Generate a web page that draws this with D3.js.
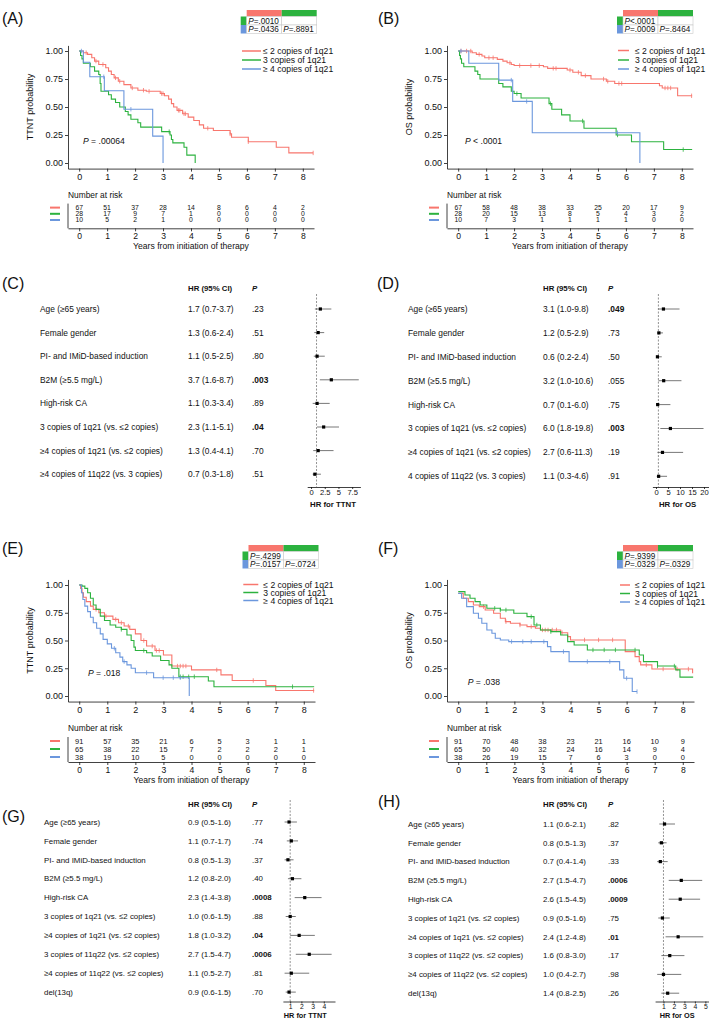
<!DOCTYPE html>
<html>
<head>
<meta charset="utf-8">
<script src="https://cdn.jsdelivr.net/npm/d3@7"></script>
<style>
  body { margin: 0; background: #fff; }
</style>
</head>
<body>
<div id="chart"></div>
<script>
// # Shared data.
const years = [0, 1, 2, 3, 4, 5, 6, 7, 8]
const groupNames = ['≤ 2 copies of 1q21', '3 copies of 1q21', '≥ 4 copies of 1q21']

// # Number at risk tables (rows: ≤2, 3, ≥4 copies).
const riskA = [[67, 51, 37, 28, 14, 8, 6, 4, 2], [28, 17, 9, 7, 1, 0, 0, 0, 0], [10, 5, 2, 1, 0, 0, 0, 0, 0]]
const riskB = [[67, 58, 48, 38, 33, 25, 20, 17, 9], [28, 20, 15, 13, 8, 5, 4, 3, 2], [10, 7, 3, 1, 1, 1, 1, 0, 0]]
const riskE = [[91, 57, 35, 21, 6, 5, 3, 1, 1], [65, 38, 22, 15, 7, 2, 2, 2, 1], [38, 19, 10, 5, 0, 0, 0, 0, 0]]
const riskF = [[91, 70, 48, 38, 23, 21, 16, 10, 9], [65, 50, 40, 32, 24, 16, 14, 9, 4], [38, 26, 19, 15, 7, 6, 3, 0, 0]]

// # Pairwise P tables: [[1 vs 2], [1 vs 3, 2 vs 3]].
const pairA = [['=.0010'], ['=.0436', '=.8891']]
const pairB = [['<.0001'], ['=.0009', '=.8464']]
const pairE = [['=.4299'], ['=.0157', '=.0724']]
const pairF = [['=.9399'], ['=.0329', '=.0329']]

// # Log-rank P.
const logrankA = ' = .00064'
const logrankB = ' < .0001'
const logrankE = ' = .018'
const logrankF = ' = .038'

// # Kaplan-Meier steps [years, survival] and censor times.
const kmA_red = [[0, 1], [0.15, 0.985], [0.3, 0.97], [0.45, 0.94], [0.55, 0.91], [0.7, 0.88], [0.95, 0.85], [1.05, 0.82], [1.15, 0.79], [1.25, 0.76], [1.4, 0.73], [1.6, 0.70], [1.85, 0.67], [2.1, 0.65], [2.4, 0.64], [2.9, 0.62], [3.05, 0.60], [3.2, 0.57], [3.3, 0.53], [3.38, 0.50], [3.5, 0.47], [3.7, 0.44], [3.9, 0.41], [4.1, 0.38], [4.3, 0.34], [4.45, 0.31], [4.8, 0.29], [5.4, 0.26], [5.45, 0.23], [6.05, 0.19], [7.05, 0.14], [7.5, 0.09], [8.37, 0.09]]
const kmA_green = [[0, 1], [0.05, 0.96], [0.1, 0.93], [0.15, 0.89], [0.4, 0.86], [0.55, 0.82], [0.7, 0.79], [0.75, 0.71], [0.78, 0.64], [1.05, 0.61], [1.15, 0.57], [1.3, 0.54], [1.45, 0.50], [1.65, 0.46], [1.75, 0.43], [1.85, 0.39], [2.1, 0.36], [2.2, 0.32], [2.95, 0.28], [3.25, 0.25], [3.3, 0.21], [3.35, 0.18], [3.75, 0.14], [3.85, 0.07], [4.15, 0]]
const kmA_blue = [[0, 1], [0.15, 0.9], [0.38, 0.77], [0.9, 0.645], [1.6, 0.48], [2.63, 0.24], [3.0, 0]]
const cA_red = [0.25, 0.6, 0.85, 1.3, 1.45, 1.9, 2.3, 2.5, 2.95, 3.0, 3.55, 3.6, 3.75, 3.8, 4.6, 5.4, 6.05, 8.37]
const cA_green = [3.22]
const cA_blue = [0.08, 0.88, 1.85]

const kmB_red = [[0, 1], [0.5, 0.985], [0.65, 0.97], [0.85, 0.955], [0.95, 0.94], [1.4, 0.925], [1.6, 0.91], [1.75, 0.895], [1.9, 0.88], [2.0, 0.87], [3.05, 0.86], [3.2, 0.845], [3.9, 0.83], [4.1, 0.81], [4.4, 0.78], [4.75, 0.75], [5.3, 0.73], [5.6, 0.71], [7.2, 0.69], [7.3, 0.67], [7.85, 0.60], [8.37, 0.60]]
const kmB_green = [[0, 1], [0.05, 0.96], [0.08, 0.93], [0.12, 0.89], [0.2, 0.86], [0.6, 0.82], [0.7, 0.79], [0.78, 0.75], [1.45, 0.71], [1.6, 0.68], [1.9, 0.64], [2.0, 0.62], [2.25, 0.58], [3.25, 0.53], [3.35, 0.48], [3.7, 0.43], [4.0, 0.375], [4.5, 0.31], [5.65, 0.25], [6.2, 0.19], [7.35, 0.12], [8.37, 0.12]]
const kmB_blue = [[0, 1], [0.38, 0.89], [1.45, 0.74], [1.95, 0.55], [2.65, 0.27], [6.5, 0]]
const cB_red = [0.1, 0.3, 0.45, 0.75, 1.1, 1.25, 1.85, 2.2, 2.6, 2.9, 3.4, 3.5, 4.0, 4.3, 4.55, 5.2, 5.35, 5.75, 5.85, 7.4, 7.5, 7.6, 8.35]
const cB_green = [2.1, 3.3, 4.45, 5.7, 8.05]
const cB_blue = [0.1, 1.9, 2.45, 5.7]

const kmE_red = [[0, 1], [0.05, 0.97], [0.1, 0.93], [0.15, 0.89], [0.25, 0.85], [0.4, 0.81], [0.5, 0.78], [0.7, 0.75], [0.9, 0.72], [1.2, 0.69], [1.4, 0.66], [1.6, 0.63], [1.8, 0.6], [2.0, 0.56], [2.2, 0.5], [2.4, 0.45], [2.7, 0.41], [3.0, 0.37], [3.3, 0.27], [4.0, 0.235], [5.05, 0.19], [5.45, 0.14], [6.65, 0.095], [7.0, 0.05], [8.37, 0.05]]
const kmE_green = [[0, 1], [0.1, 0.99], [0.2, 0.97], [0.3, 0.93], [0.4, 0.88], [0.5, 0.82], [0.6, 0.78], [0.75, 0.72], [0.9, 0.68], [1.1, 0.64], [1.3, 0.62], [1.5, 0.6], [1.7, 0.55], [1.85, 0.5], [1.95, 0.44], [2.0, 0.41], [2.4, 0.39], [2.6, 0.36], [2.9, 0.32], [3.2, 0.28], [3.3, 0.25], [3.55, 0.174], [4.6, 0.135], [4.8, 0.084], [8.37, 0.084]]
const kmE_blue = [[0, 1], [0.08, 0.93], [0.13, 0.87], [0.2, 0.81], [0.3, 0.76], [0.4, 0.71], [0.5, 0.66], [0.62, 0.61], [0.75, 0.56], [0.85, 0.51], [1.0, 0.47], [1.15, 0.43], [1.3, 0.39], [1.45, 0.35], [1.55, 0.31], [1.7, 0.28], [1.85, 0.25], [2.0, 0.21], [2.65, 0.165], [3.92, 0]]
const cE_red = [0.6, 0.95, 1.3, 1.5, 1.75, 2.3, 2.6, 2.75, 2.85, 3.5, 3.6, 3.7, 3.8, 4.9, 6.2, 8.35]
const cE_green = [1.5, 2.3, 3.6, 3.7, 3.9, 4.1, 7.6]
const cE_blue = [1.25, 1.6, 2.4, 2.99, 3.35, 3.6]

const kmF_red = [[0, 0.925], [0.18, 0.88], [0.36, 0.85], [0.54, 0.82], [0.75, 0.805], [0.96, 0.775], [1.26, 0.745], [1.5, 0.70], [1.68, 0.67], [1.86, 0.655], [2.2, 0.64], [2.45, 0.625], [2.75, 0.61], [2.93, 0.595], [3.65, 0.57], [3.9, 0.535], [4.0, 0.505], [5.95, 0.40], [6.3, 0.355], [6.45, 0.31], [6.5, 0.28], [6.9, 0.243], [8.35, 0.205]]
const kmF_green = [[0, 0.94], [0.24, 0.91], [0.42, 0.88], [0.6, 0.85], [0.78, 0.82], [1.02, 0.79], [1.5, 0.775], [1.98, 0.745], [2.45, 0.715], [2.7, 0.64], [2.93, 0.595], [3.3, 0.58], [3.65, 0.55], [3.9, 0.49], [4.13, 0.46], [4.6, 0.415], [6.45, 0.37], [6.6, 0.31], [7.1, 0.27], [7.75, 0.235], [7.9, 0.17], [8.37, 0.17]]
const kmF_blue = [[0, 0.925], [0.12, 0.88], [0.3, 0.805], [0.54, 0.745], [0.72, 0.70], [0.84, 0.655], [1.02, 0.595], [1.2, 0.565], [1.32, 0.52], [1.5, 0.505], [1.8, 0.49], [3.18, 0.445], [3.3, 0.40], [3.95, 0.31], [5.75, 0.235], [5.9, 0.16], [6.2, 0.04], [6.37, 0.04]]
const cF_red = [0.9, 1.7, 2.2, 2.6, 3.0, 3.1, 3.2, 3.35, 3.5, 3.7, 4.5, 5.0, 5.5, 6.7, 7.3, 7.8, 8.2]
const cF_green = [1.3, 1.5, 1.7, 2.6, 2.8, 3.3, 4.8, 5.2, 5.6, 6.3, 7.1, 7.7]
const cF_blue = [1.9, 2.3, 2.6, 3.05, 3.75, 4.6, 5.4, 6.0, 6.37]

// # Cox models.
const coxLabelsCD = ['Age (≥65 years)', 'Female gender', 'PI- and IMiD-based induction', 'B2M (≥5.5 mg/L)', 'High-risk CA', '3 copies of 1q21 (vs. ≤2 copies)', '≥4 copies of 1q21 (vs. ≤2 copies)']
const coxLabelsC = coxLabelsCD.concat(['≥4 copies of 11q22 (vs. 3 copies)'])
const coxLabelsD = coxLabelsCD.concat(['4 copies of 11q22 (vs. 3 copies)'])
const hrC = [1.7, 1.3, 1.1, 3.7, 1.1, 2.3, 1.3, 0.7]
const loC = [0.7, 0.6, 0.5, 1.6, 0.3, 1.1, 0.4, 0.3]
const hiC = [3.7, 2.4, 2.5, 8.7, 3.4, 5.1, 4.1, 1.8]
const pC = ['.23', '.51', '.80', '.003', '.89', '.04', '.70', '.51']
const hrD = [3.1, 1.2, 0.6, 3.2, 0.7, 6.0, 2.7, 1.1]
const loD = [1.0, 0.5, 0.2, 1.0, 0.1, 1.8, 0.6, 0.3]
const hiD = [9.8, 2.9, 2.4, 10.6, 6.0, 19.8, 11.3, 4.6]
const pD = ['.049', '.73', '.50', '.055', '.75', '.003', '.19', '.91']

const coxLabelsGH = ['Age (≥65 years)', 'Female gender', 'PI- and IMiD-based induction', 'B2M (≥5.5 mg/L)', 'High-risk CA', '3 copies of 1q21 (vs. ≤2 copies)', '≥4 copies of 1q21 (vs. ≤2 copies)', '3 copies of 11q22 (vs. ≤2 copies)', '≥4 copies of 11q22 (vs. ≤2 copies)', 'del(13q)']
const hrG = [0.9, 1.1, 0.8, 1.2, 2.3, 1.0, 1.8, 2.7, 1.1, 0.9]
const loG = [0.5, 0.7, 0.5, 0.8, 1.4, 0.6, 1.0, 1.5, 0.5, 0.6]
const hiG = [1.6, 1.7, 1.3, 2.0, 3.8, 1.5, 3.2, 4.7, 2.7, 1.5]
const pG = ['.77', '.74', '.37', '.40', '.0008', '.88', '.04', '.0006', '.81', '.70']
const hrH = [1.1, 0.8, 0.7, 2.7, 2.6, 0.9, 2.4, 1.6, 1.0, 1.4]
const loH = [0.6, 0.5, 0.4, 1.5, 1.5, 0.5, 1.2, 0.8, 0.4, 0.8]
const hiH = [2.1, 1.3, 1.4, 4.7, 4.5, 1.6, 4.8, 3.0, 2.7, 2.5]
const pH = ['.82', '.37', '.33', '.0006', '.0009', '.75', '.01', '.17', '.98', '.26']

const FONT = '"Liberation Sans", Arial, Helvetica, sans-serif'
const COLORS = ['#F8766D', '#2CB23F', '#6B97DD']
const INK = '#111'

// # Mount svg.
const svg = d3.select('#chart').append('svg')
    .attr('width', 709)
    .attr('height', 1020)
    .attr('font-family', FONT)
svg.append('rect').attr('width', 709).attr('height', 1020).attr('fill', '#fff')

function panelLabel(txt, x, y) {
    svg.append('text').attr('x', x).attr('y', y).attr('font-size', 16).attr('fill', INK).text(txt)
}

function stepAt(curve, t) {
    let s = curve[0][1]
    curve.forEach(d => { if (d[0] <= t) s = d[1] })
    return s
}

function styleAxis(sel, size) {
    sel.attr('font-family', FONT).attr('font-size', size)
    sel.selectAll('text').attr('fill', INK)
    sel.selectAll('line, path').attr('stroke', INK).attr('stroke-width', 0.8)
}

// # P table over each KM panel.
function pTable(x0, y0, vals) {
    const cw = 35, sq = 6, bh = 6.5, rh = 8.5
    const g = svg.append('g')
    g.append('rect').attr('x', x0 + sq).attr('y', y0).attr('width', cw).attr('height', bh).attr('fill', COLORS[0])
    g.append('rect').attr('x', x0 + sq + cw).attr('y', y0).attr('width', cw).attr('height', bh).attr('fill', COLORS[1])
    vals.forEach((row, r) => {
        const y = y0 + bh + r * rh
        g.append('rect').attr('x', x0).attr('y', y).attr('width', sq).attr('height', rh).attr('fill', COLORS[r + 1])
        for (let c = 0; c < 2; c++) {
            g.append('rect').attr('x', x0 + sq + c * cw).attr('y', y).attr('width', cw).attr('height', rh)
                .attr('fill', '#fff').attr('stroke', '#c8c8c8').attr('stroke-width', 0.6)
            if (row[c]) {
                const t = g.append('text').attr('x', x0 + sq + c * cw + 1.5).attr('y', y + rh / 2).attr('dy', '0.36em')
                    .attr('font-size', 8.2).attr('fill', INK)
                t.append('tspan').attr('font-style', 'italic').text('P')
                t.append('tspan').text(row[c])
            }
        }
    })
}

// # Kaplan-Meier panel with risk table.
function kmPanel(p) {
    const g = svg.append('g')
    const x = d3.scaleLinear().domain([-0.4, 8.4]).range([p.axisX, p.axisEnd])
    const y = d3.scaleLinear().domain([-0.05, 1.05]).range([p.yBot, p.yTop])
    const line = d3.line().x(d => x(d[0])).y(d => y(d[1])).curve(d3.curveStepAfter)

    p.curves.forEach((c, i) => {
        g.append('path').datum(c).attr('d', line)
            .attr('fill', 'none').attr('stroke', COLORS[i]).attr('stroke-width', 1.1)
        g.selectAll(null).data(p.cens[i]).enter().append('line')
            .attr('x1', t => x(t)).attr('x2', t => x(t))
            .attr('y1', t => y(stepAt(c, t)) - 2.2).attr('y2', t => y(stepAt(c, t)) + 2.2)
            .attr('stroke', COLORS[i]).attr('stroke-width', 0.8)
    })

    const ya = g.append('g').attr('transform', `translate(${p.axisX},0)`)
        .call(d3.axisLeft(y).tickValues([0, 0.25, 0.5, 0.75, 1]).tickFormat(d3.format('.2f')).tickSize(3).tickSizeOuter(0).tickPadding(2))
    styleAxis(ya, 9)
    const xa = g.append('g').attr('transform', `translate(0,${p.yBot})`)
        .call(d3.axisBottom(x).tickValues(years).tickFormat(d => d).tickSize(3).tickSizeOuter(0).tickPadding(2))
    styleAxis(xa, 9)

    g.append('text').attr('transform', `translate(${p.axisX - 35},${y(0.5)}) rotate(-90)`)
        .attr('text-anchor', 'middle').attr('font-size', 9).attr('fill', INK).text(p.ylab)

    const pt = g.append('text').attr('x', p.px).attr('y', p.py).attr('dy', '0.35em').attr('font-size', 8.6).attr('fill', INK)
    pt.append('tspan').attr('font-style', 'italic').text('P')
    pt.append('tspan').text(p.logrank)

    // # Legend.
    groupNames.forEach((n, i) => {
        g.append('line').attr('x1', p.legX).attr('x2', p.legX + p.legLen)
            .attr('y1', p.legY[i]).attr('y2', p.legY[i]).attr('stroke', COLORS[i]).attr('stroke-width', 1.5)
        g.append('text').attr('x', p.legTx).attr('y', p.legY[i]).attr('dy', '0.35em')
            .attr('font-size', 8.6).attr('fill', INK).text(n)
    })

    // # Risk table.
    g.append('text').attr('x', p.axisX).attr('y', p.nar).attr('dy', '0.35em')
        .attr('font-size', 8.4).attr('fill', INK).text('Number at risk')
    p.risk.forEach((row, i) => {
        g.append('line').attr('x1', p.axisX - 18).attr('x2', p.axisX - 8)
            .attr('y1', p.riskRows[i]).attr('y2', p.riskRows[i]).attr('stroke', COLORS[i]).attr('stroke-width', 2)
        g.selectAll(null).data(row).enter().append('text')
            .attr('x', (d, j) => x(years[j])).attr('y', p.riskRows[i]).attr('dy', '0.36em')
            .attr('text-anchor', 'middle').attr('font-size', p.riskFs).attr('fill', INK).text(d => d)
    })
    g.append('line').attr('x1', p.axisX).attr('x2', p.axisX)
        .attr('y1', p.riskRows[0] - 4).attr('y2', p.riskLine).attr('stroke', INK).attr('stroke-width', 0.8)
    const ra = g.append('g').attr('transform', `translate(0,${p.riskLine})`)
        .call(d3.axisBottom(x).tickValues(years).tickFormat(d => d).tickSize(3).tickSizeOuter(0).tickPadding(2))
    styleAxis(ra, 8.6)
    g.append('text').attr('x', x(4)).attr('y', p.riskTitle).attr('dy', '0.35em')
        .attr('text-anchor', 'middle').attr('font-size', 8.6).attr('fill', INK).text('Years from initiation of therapy')
}

// # Forest plot with table.
function forest(f) {
    const g = svg.append('g')
    const x = d3.scaleLinear().domain(f.domain).range(f.range)
    const rowY = i => f.y0 + i * f.dy

    g.append('text').attr('x', f.hrX).attr('y', f.headY).attr('dy', '0.35em')
        .attr('font-size', 7.8).attr('font-weight', 'bold').attr('fill', INK).text('HR (95% CI)')
    g.append('text').attr('x', f.pX).attr('y', f.headY).attr('dy', '0.35em')
        .attr('font-size', 7.8).attr('font-weight', 'bold').attr('font-style', 'italic').attr('fill', INK).text('P')

    f.labels.forEach((lab, i) => {
        g.append('text').attr('x', f.labX).attr('y', rowY(i)).attr('dy', '0.35em')
            .attr('font-size', f.fs).attr('fill', INK).text(lab)
        g.append('text').attr('x', f.hrX).attr('y', rowY(i)).attr('dy', '0.35em')
            .attr('font-size', f.fs).attr('fill', INK)
            .text(`${f.hr[i].toFixed(1)} (${f.lo[i].toFixed(1)}-${f.hi[i].toFixed(1)})`)
        g.append('text').attr('x', f.pX).attr('y', rowY(i)).attr('dy', '0.35em')
            .attr('font-size', f.fs).attr('fill', INK)
            .attr('font-weight', parseFloat('0' + f.p[i]) < 0.05 ? 'bold' : 'normal')
            .text(f.p[i])
    })

    g.append('line').attr('x1', x(1)).attr('x2', x(1)).attr('y1', f.dashTop).attr('y2', f.axisY)
        .attr('stroke', '#777').attr('stroke-width', 0.8).attr('stroke-dasharray', '2,1.5')

    g.selectAll(null).data(f.hr).enter().append('line')
        .attr('x1', (d, i) => x(f.lo[i])).attr('x2', (d, i) => x(f.hi[i]))
        .attr('y1', (d, i) => rowY(i)).attr('y2', (d, i) => rowY(i))
        .attr('stroke', '#555').attr('stroke-width', 0.8)
    g.selectAll(null).data(f.hr).enter().append('rect')
        .attr('x', d => x(d) - 1.6).attr('y', (d, i) => rowY(i) - 1.6)
        .attr('width', 3.2).attr('height', 3.2).attr('fill', '#000')

    const ax = g.append('g').attr('transform', `translate(0,${f.axisY})`)
        .call(d3.axisBottom(x).tickValues(f.ticks).tickFormat(d => d).tickSize(2).tickSizeOuter(0).tickPadding(1))
    styleAxis(ax, f.tickFs)
    g.append('text').attr('x', x(f.titleAt)).attr('y', f.titleY).attr('dy', '0.35em')
        .attr('text-anchor', 'middle').attr('font-size', f.titleFs).attr('font-weight', 'bold').attr('fill', INK).text(f.title)
}

// # Panels.
panelLabel('(A)', 2, 23.5)
panelLabel('(B)', 378, 23.5)
panelLabel('(C)', 2, 289)
panelLabel('(D)', 377, 289)
panelLabel('(E)', 2, 553.5)
panelLabel('(F)', 378, 553.5)
panelLabel('(G)', 2, 822)
panelLabel('(H)', 378, 807)

pTable(240.7, 10, pairA)
pTable(617, 10, pairB)
pTable(242.5, 545, pairE)
pTable(617, 545, pairF)

kmPanel({ axisX: 68, axisEnd: 314, yTop: 45.4, yBot: 168.6, ylab: 'TTNT probability',
    curves: [kmA_red, kmA_green, kmA_blue], cens: [cA_red, cA_green, cA_blue], logrank: logrankA, px: 83, py: 141,
    legX: 242, legLen: 19, legTx: 263, legY: [51, 60, 69],
    risk: riskA, riskFs: 6.8, nar: 195, riskRows: [207.6, 213.8, 220], riskLine: 228.3, riskTitle: 246.3 })
kmPanel({ axisX: 447, axisEnd: 693, yTop: 45.4, yBot: 168.6, ylab: 'OS probability',
    curves: [kmB_red, kmB_green, kmB_blue], cens: [cB_red, cB_green, cB_blue], logrank: logrankB, px: 465, py: 141,
    legX: 618, legLen: 11, legTx: 635, legY: [50.5, 60, 69],
    risk: riskB, riskFs: 6.8, nar: 195, riskRows: [207.6, 213.8, 220], riskLine: 228.3, riskTitle: 246.3 })
kmPanel({ axisX: 68, axisEnd: 315, yTop: 579.45, yBot: 701.55, ylab: 'TTNT probability',
    curves: [kmE_red, kmE_green, kmE_blue], cens: [cE_red, cE_green, cE_blue], logrank: logrankE, px: 88, py: 673.3,
    legX: 243.3, legLen: 15, legTx: 263.3, legY: [584.5, 592.5, 600.5],
    risk: riskE, riskFs: 7.4, nar: 728, riskRows: [741, 749, 757], riskLine: 762, riskTitle: 779.7 })
kmPanel({ axisX: 447, axisEnd: 694, yTop: 579.45, yBot: 701.55, ylab: 'OS probability',
    curves: [kmF_red, kmF_green, kmF_blue], cens: [cF_red, cF_green, cF_blue], logrank: logrankF, px: 467.7, py: 682.3,
    legX: 620, legLen: 10, legTx: 635, legY: [585, 593.5, 602],
    risk: riskF, riskFs: 7.4, nar: 728, riskRows: [741, 749, 757], riskLine: 762, riskTitle: 779.7 })

forest({ labels: coxLabelsC, hr: hrC, lo: loC, hi: hiC, p: pC, fs: 8.4,
    labX: 40, hrX: 188, pX: 252, headY: 288, y0: 309, dy: 23.6, dashTop: 294, axisY: 487,
    domain: [-0.7, 9.0], range: [307.2, 360.4], ticks: [0, 2.5, 5, 7.5], tickFs: 7.6,
    title: 'HR for TTNT', titleAt: 4, titleY: 504, titleFs: 7.8 })
forest({ labels: coxLabelsD, hr: hrD, lo: loD, hi: hiD, p: pD, fs: 8.4,
    labX: 408, hrX: 543, pX: 608, headY: 288, y0: 309, dy: 23.9, dashTop: 294, axisY: 487,
    domain: [-1.5, 22], range: [652.4, 708.8], ticks: [0, 5, 10, 15, 20], tickFs: 7.6,
    title: 'HR for OS', titleAt: 9, titleY: 504, titleFs: 7.8 })
forest({ labels: coxLabelsGH, hr: hrG, lo: loG, hi: hiG, p: pG, fs: 7.9,
    labX: 44, hrX: 188, pX: 252, headY: 804, y0: 822, dy: 18.9, dashTop: 800, axisY: 1001.5,
    domain: [0.35, 5.0], range: [282.9, 335], ticks: [1, 2, 3, 4], tickFs: 6.8,
    title: 'HR for TTNT', titleAt: 2.35, titleY: 1015.8, titleFs: 7.3 })
forest({ labels: coxLabelsGH, hr: hrH, lo: loH, hi: hiH, p: pH, fs: 7.9,
    labX: 408, hrX: 543, pX: 608, headY: 804, y0: 824, dy: 18.8, dashTop: 800, axisY: 1001.5,
    domain: [0.2, 5.3], range: [655.1, 708.5], ticks: [1, 2, 3, 4, 5], tickFs: 6.8,
    title: 'HR for OS', titleAt: 2.3, titleY: 1015.8, titleFs: 7.3 })
</script>
</body>
</html>
